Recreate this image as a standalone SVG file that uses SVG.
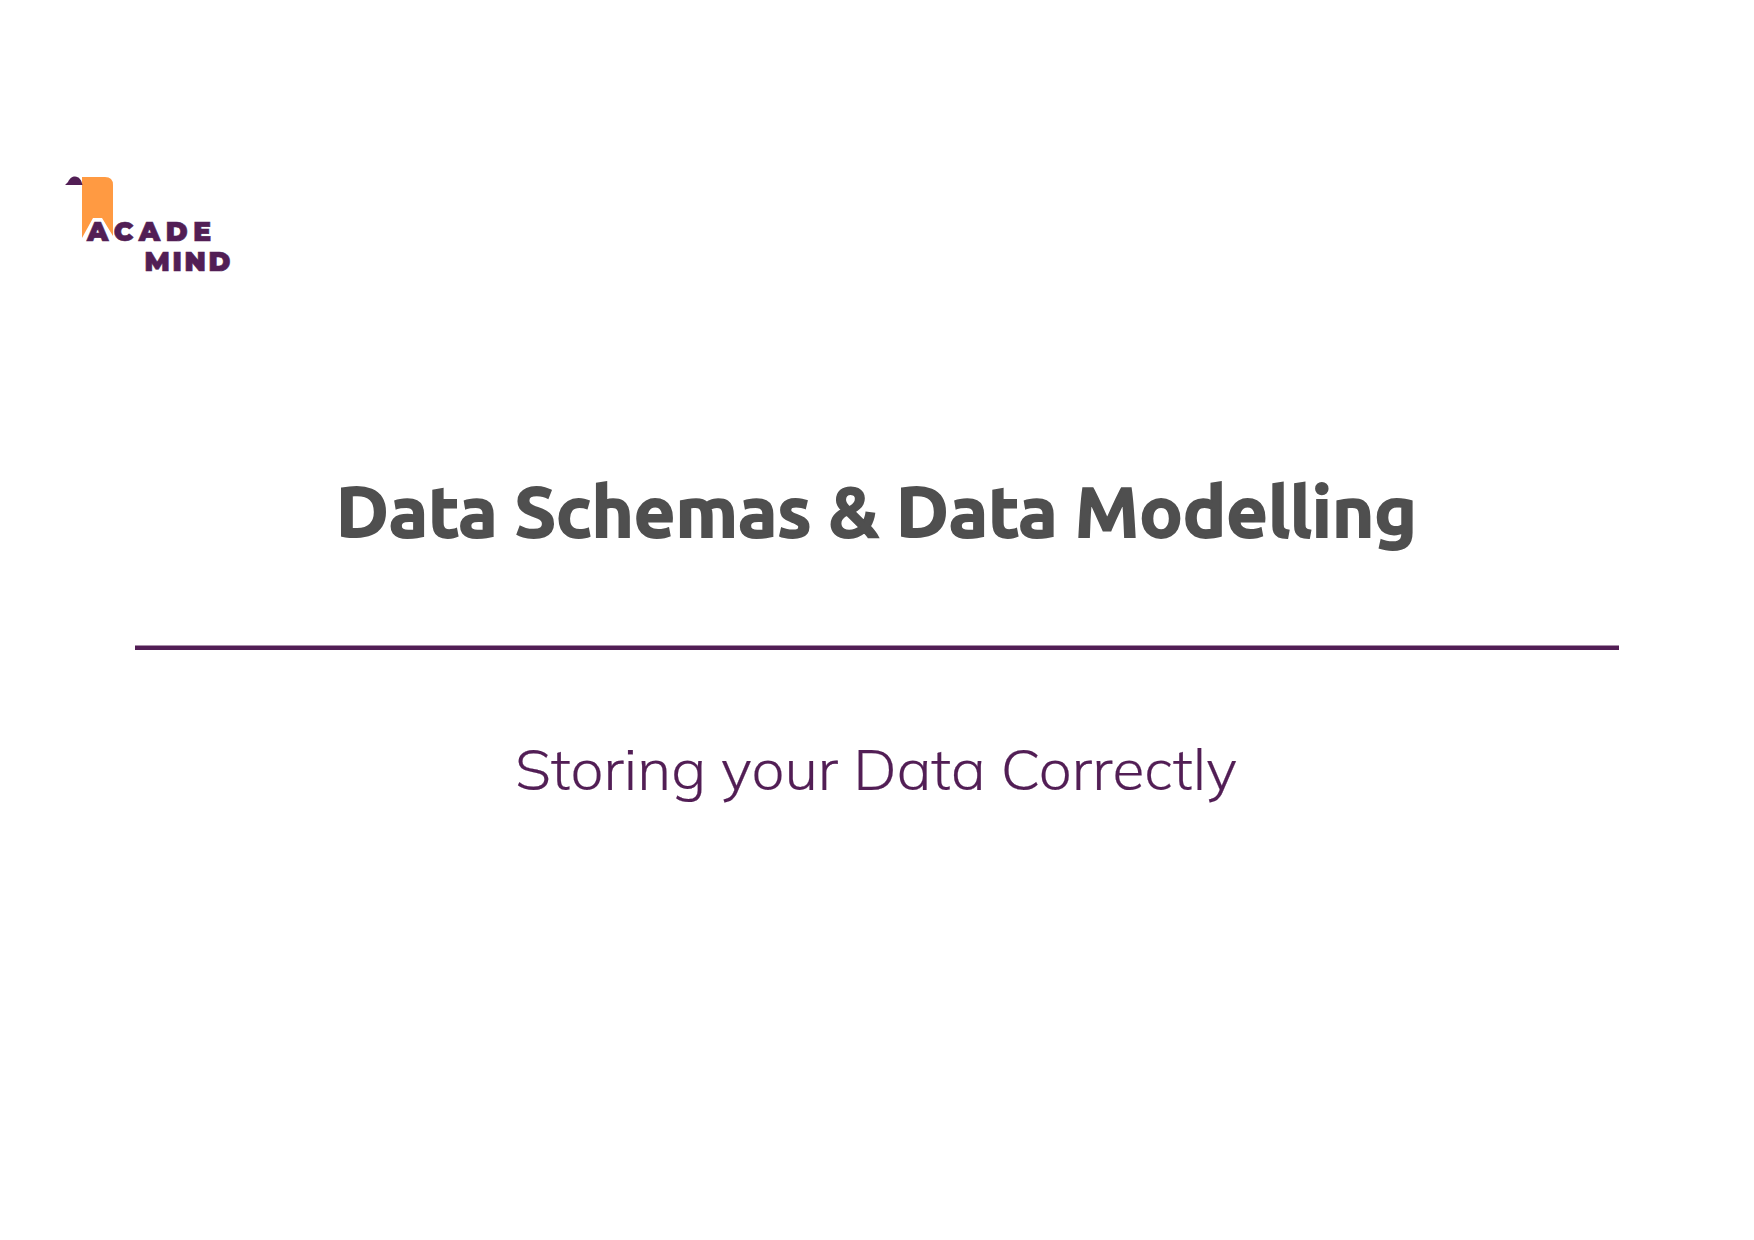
<svg xmlns="http://www.w3.org/2000/svg" width="1754" height="1240" viewBox="0 0 1754 1240">
<style>
.logo{font-family:"Montserrat","Lato","Liberation Sans",sans-serif;font-weight:900;font-size:26.5px;fill:#521e55;stroke:#521e55;stroke-width:.6px}
.title{font-family:"Ubuntu","Noto Sans","Open Sans",sans-serif;font-weight:700;font-size:70px;fill:#4f4f4f;stroke:#4f4f4f;stroke-width:1.8px}
.sub{font-family:"Mulish","Nunito","Lato","Open Sans",sans-serif;font-weight:300;font-size:57px;fill:#521e55;stroke:#521e55;stroke-width:.2px}
</style>
<rect width="1754" height="1240" fill="#ffffff"/>
<g id="logo">
<path d="M82 177H105Q113 177 113 185V236L102 218H93L82 238Z" fill="#ff9a42"/>
<path d="M65 185L68 182C70 178 72 176.500 75 176.500C79 176.500 81.500 180 82.500 185Z" fill="#521e55"/>
<text class="logo" x="87" y="240.500" textLength="124" lengthAdjust="spacing">ACADE</text>
<text class="logo" x="144.500" y="271" textLength="86" lengthAdjust="spacing">MIND</text>
</g>
<g id="title"><text class="title" x="336" y="536.500" textLength="1081" lengthAdjust="spacingAndGlyphs">Data Schemas &amp; Data Modelling</text></g>
<g id="divider"><rect x="135" y="645.500" width="1484" height="4.500" fill="#521e55"/></g>
<g id="subtitle"><text class="sub" x="515" y="790" textLength="722" lengthAdjust="spacingAndGlyphs">Storing your Data Correctly</text></g>
</svg>
